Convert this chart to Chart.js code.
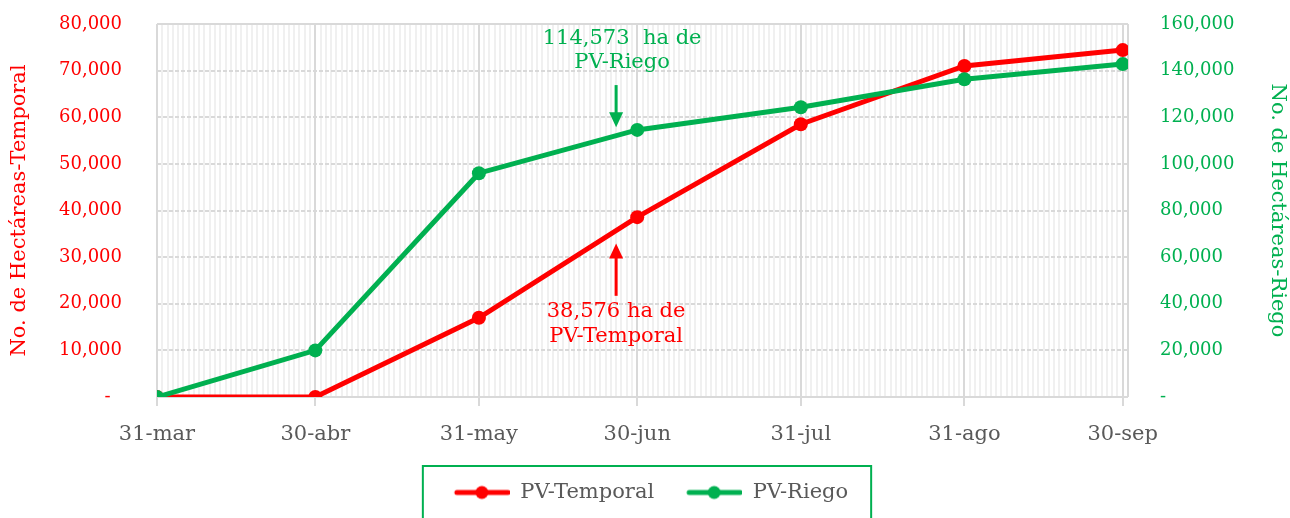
<!DOCTYPE html>
<html>
<head>
<meta charset="utf-8">
<script src="https://cdn.jsdelivr.net/npm/chart.js@4/dist/chart.umd.min.js"></script>
<style>
  html, body { margin:0; padding:0; background:#fff; }
  #wrap { width:1290px; height:518px; }
</style>
</head>
<body>
<div id="wrap"><canvas id="avanceChart" width="1290" height="518"></canvas></div>
<script>
// Data
const dateLabels = ['31-mar','30-abr','31-may','30-jun','31-jul','31-ago','30-sep'];
const dayOffsets = [0, 30, 61, 91, 122, 153, 183]; // days since 31-mar
const temporal = [0, 0, 17000, 38576, 58500, 71000, 74400];
const riego = [0, 20000, 96000, 114573, 124300, 136300, 142800];

const RED = '#ff0000';
const GREEN = '#00b050';
const FONT = "'DejaVu Serif', serif";
const lastDay = 184;

const fmt = v => v.toLocaleString('en-US');

// legend marker: line with a dot
function legendMarker(color) {
    const c = document.createElement('canvas');
    c.width = 82; c.height = 16;
    const g = c.getContext('2d');
    g.strokeStyle = color; g.lineWidth = 5; g.lineCap = 'round';
    g.beginPath(); g.moveTo(29, 8); g.lineTo(80, 8); g.stroke();
    g.fillStyle = color;
    g.beginPath(); g.arc(54, 8, 6.5, 0, Math.PI * 2); g.fill();
    return c;
}
const markers = [legendMarker(RED), legendMarker(GREEN)];

// arrows + text
const notes = [
    { axis:'yR', day:87, from:133800, to:115700, color:GREEN, text:[fmt(riego[3]) + '  ha de', 'PV-Riego'], above:true },
    { axis:'yL', day:87, from:21700, to:32900, color:RED, text:[fmt(temporal[3]) + ' ha de', 'PV-Temporal'], above:false }
];

const notesPlugin = {
    id:'notes',
    afterLayout(chart) {
        // nudge the legend a little left and up
        const lg = chart.legend;
        lg.left -= 7; lg.right -= 7;
        lg.top -= 5; lg.bottom -= 5;
    },
    afterDatasetsDraw(chart) {
        const ctx = chart.ctx;
        const xs = chart.scales.x;
        notes.forEach(n => {
            const ys = chart.scales[n.axis];
            const x = xs.getPixelForValue(n.day);
            const y0 = ys.getPixelForValue(n.from);
            const y1 = ys.getPixelForValue(n.to);
            const dir = y1 > y0 ? 1 : -1;
            ctx.save();
            ctx.strokeStyle = n.color; ctx.fillStyle = n.color; ctx.lineWidth = 3;
            ctx.beginPath(); ctx.moveTo(x, y0); ctx.lineTo(x, y1 - dir * 12); ctx.stroke();
            ctx.beginPath();
            ctx.moveTo(x, y1); ctx.lineTo(x - 7, y1 - dir * 15); ctx.lineTo(x + 7, y1 - dir * 15);
            ctx.closePath(); ctx.fill();
            ctx.font = '21px ' + FONT;
            ctx.textAlign = 'center'; ctx.textBaseline = 'middle';
            if (n.above) {
                ctx.fillText(n.text[0], x + 6, y0 - 47);
                ctx.fillText(n.text[1], x + 6, y0 - 23);
            } else {
                ctx.fillText(n.text[0], x, y0 + 16);
                ctx.fillText(n.text[1], x, y0 + 41);
            }
            ctx.restore();
        });
    },
    afterDraw(chart) {
        // frame around legend
        const hb = chart.legend.legendHitBoxes;
        if (!hb || !hb.length) return;
        const ctx = chart.ctx;
        const left = hb[0].left - 5;
        const right = hb[hb.length - 1].left + hb[hb.length - 1].width + 23;
        const top = hb[0].top - 16;
        ctx.save();
        ctx.strokeStyle = GREEN; ctx.lineWidth = 2;
        ctx.strokeRect(left, top, right - left, 80);
        ctx.restore();
    }
};

const isMajor = v => dayOffsets.includes(v) || v === lastDay;

// keep the y tick padding from pushing the plot area down
function fixY(width) {
    return scale => { scale.width = width; scale.paddingTop = 0; scale.paddingBottom = 0; };
}

new Chart(document.getElementById('avanceChart'), {
    type:'line',
    data:{
        datasets:[
            { label:'PV-Temporal', data:dayOffsets.map((d,i) => ({x:d, y:temporal[i]})), yAxisID:'yL',
              borderColor:RED, backgroundColor:RED, borderWidth:5, pointRadius:7, pointHoverRadius:7,
              pointBorderWidth:0, order:2 },
            { label:'PV-Riego', data:dayOffsets.map((d,i) => ({x:d, y:riego[i]})), yAxisID:'yR',
              borderColor:GREEN, backgroundColor:GREEN, borderWidth:5, pointRadius:7, pointHoverRadius:7,
              pointBorderWidth:0, order:1 }
        ]
    },
    options:{
        responsive:false,
        animation:false,
        layout:{ padding:{ top:24, right:0, left:0, bottom:0 } },
        plugins:{
            tooltip:{ enabled:false },
            legend:{
                position:'bottom',
                labels:{
                    usePointStyle:true, pointStyleWidth:82, boxHeight:16, padding:6,
                    color:'#595959', font:{ family:FONT, size:21 },
                    sort:(a, b) => a.datasetIndex - b.datasetIndex,
                    generateLabels(chart) {
                        const items = Chart.defaults.plugins.legend.labels.generateLabels(chart);
                        items.forEach(it => { it.pointStyle = markers[it.datasetIndex]; });
                        return items;
                    }
                }
            }
        },
        scales:{
            x:{
                type:'linear', min:0, max:lastDay,
                afterBuildTicks(scale) {
                    const t = [];
                    for (let d = 0; d <= lastDay; d++) t.push({ value:d });
                    scale.ticks = t;
                },
                afterFit(scale) { scale.height = 84; },
                ticks:{
                    autoSkip:false, maxRotation:0, padding:16, color:'#595959',
                    font:{ family:FONT, size:21 },
                    callback:v => { const i = dayOffsets.indexOf(v); return i >= 0 ? dateLabels[i] : ''; }
                },
                grid:{
                    color:c => isMajor(c.tick.value) ? '#d9d9d9' : '#f0f0f0',
                    lineWidth:2,
                    tickColor:c => dayOffsets.includes(c.tick.value) ? '#d9d9d9' : 'rgba(0,0,0,0)',
                    tickLength:9, tickWidth:2
                },
                border:{ display:false }
            },
            yL:{
                position:'left', min:0, max:80000,
                afterFit:fixY(157),
                ticks:{ stepSize:10000, padding:35, color:RED, font:{ family:FONT, size:18 },
                        callback:v => v === 0 ? '-  ' : fmt(v) },
                grid:{ color:'#d9d9d9', lineWidth:2, drawTicks:false },
                border:{ display:false, dash:c => (c.tick && (c.tick.value === 0 || c.tick.value === 80000)) ? [] : [4, 2] },
                title:{ display:true, text:'No. de Hectáreas-Temporal', color:RED,
                        font:{ family:FONT, size:21 }, padding:{ top:7, bottom:0 } }
            },
            yR:{
                position:'right', min:0, max:160000,
                afterFit:fixY(162),
                ticks:{ stepSize:20000, padding:32, color:GREEN, font:{ family:FONT, size:18 },
                        callback:v => v === 0 ? '-' : fmt(v) },
                grid:{ drawOnChartArea:false, drawTicks:false },
                border:{ display:false },
                title:{ display:true, text:'No. de Hectáreas-Riego', color:GREEN,
                        font:{ family:FONT, size:21 }, padding:{ top:0, bottom:0 } }
            }
        }
    },
    plugins:[notesPlugin]
});
</script>
</body>
</html>
